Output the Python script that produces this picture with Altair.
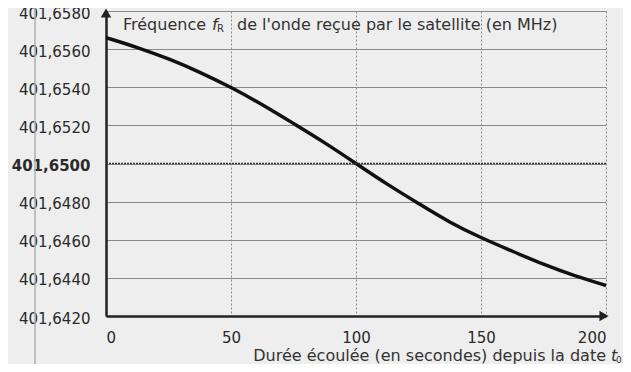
import altair as alt
import pandas as pd

# Data
t_values = [0, 12.5, 25, 37.5, 50, 62.5, 75, 87.5, 100, 112.5, 125, 137.5, 150, 162.5, 175, 187.5, 200]
f_values = [401.6566, 401.6561, 401.6555, 401.6548, 401.6540, 401.6531, 401.6521, 401.6511, 401.6500,
            401.6489, 401.6479, 401.6469, 401.6461, 401.6454, 401.6447, 401.6441, 401.6436]
y_ticks = [401.642, 401.644, 401.646, 401.648, 401.650, 401.652, 401.654, 401.656, 401.658]
x_ticks = [0, 50, 100, 150, 200]
ref_level = 401.65

df = pd.DataFrame({"t": t_values, "f": f_values})

FONT = "DejaVu Sans"
x_scale = alt.Scale(domain=[0, 200], nice=False, zero=False)
y_scale = alt.Scale(domain=[401.642, 401.658], nice=False, zero=False)

line = alt.Chart(df).mark_line(color="#111111", strokeWidth=3.5, interpolate="basis").encode(
    x=alt.X("t:Q", scale=x_scale,
            axis=alt.Axis(values=x_ticks, tickCount=20, title=None, ticks=False, domain=True,
                          domainColor="#222222", domainWidth=2.5, labelOverlap=False,
                          labelFont=FONT, labelFontSize=15, labelColor="#2a2a2a",
                          labelPadding=14, grid=True, gridColor="#8a8a8a",
                          gridDash=[2, 2], gridWidth=1)),
    y=alt.Y("f:Q", scale=y_scale,
            axis=alt.Axis(values=y_ticks, tickCount=20, title=None, ticks=False, domain=True,
                          domainColor="#222222", domainWidth=2.5, labelOverlap=False,
                          labelExpr="replace(format(datum.value, '.4f'), '.', ',')",
                          labelFontWeight={"condition": {"test": "abs(datum.value - 401.65) < 1e-7", "value": "bold"}, "value": "normal"},
                          labelFont=FONT, labelFontSize=15, labelColor="#2a2a2a",
                          labelOffset=2, labelPadding=16, grid=True, gridColor="#8a8a8a", gridWidth=1)),
)

ref_df = pd.DataFrame({"f": [ref_level]})
ref_rule = alt.Chart(ref_df).mark_rule(color="#333333", strokeWidth=1.5, strokeDash=[2, 1]).encode(
    y=alt.Y("f:Q", scale=y_scale)
)

arrow_up = alt.Chart(pd.DataFrame({"t": [0], "f": [401.658]})).mark_point(
    shape="triangle-up", filled=True, color="#222222", size=110, opacity=1, yOffset=2
).encode(x=alt.X("t:Q", scale=x_scale), y=alt.Y("f:Q", scale=y_scale))

arrow_right = alt.Chart(pd.DataFrame({"t": [200], "f": [401.642]})).mark_point(
    shape="triangle-right", filled=True, color="#222222", size=110, opacity=1, xOffset=-2
).encode(x=alt.X("t:Q", scale=x_scale), y=alt.Y("f:Q", scale=y_scale))

def txt(s, x, y, size=16, style="normal", align="left"):
    return alt.Chart(pd.DataFrame({"s": [s]})).mark_text(
        font=FONT, fontSize=size, fontStyle=style, align=align, baseline="middle", color="#333333"
    ).encode(text="s:N", x=alt.value(x), y=alt.value(y))

title_parts = [
    txt("Fréquence", 17, 14),
    txt("f", 106, 14, style="italic"),
    txt("R", 111, 18, size=10),
    txt("de l'onde reçue par le satellite (en MHz)", 131, 14),
]
xtitle_parts = [
    txt("Durée écoulée (en secondes) depuis la date", 500, 345, align="right"),
    txt("t", 505, 345, style="italic"),
    txt("0", 510, 349, size=9),
]

scan_line = alt.Chart(pd.DataFrame({"a": [0]})).mark_rule(color="#b0b0b0", strokeWidth=1.5).encode(
    x=alt.value(-71), y=alt.value(-12), y2=alt.value(360)
)

chart = alt.layer(
    scan_line, line, ref_rule, arrow_up, arrow_right, *title_parts, *xtitle_parts
).properties(
    width=500, height=305,
    autosize=alt.AutoSizeParams(type="none"),
    padding={"left": 98, "top": 3, "right": 17, "bottom": 48},
    background="#eeeeee",
).configure_view(stroke=None)

chart.save("out.html", embed_options={"renderer": "svg", "actions": False})
